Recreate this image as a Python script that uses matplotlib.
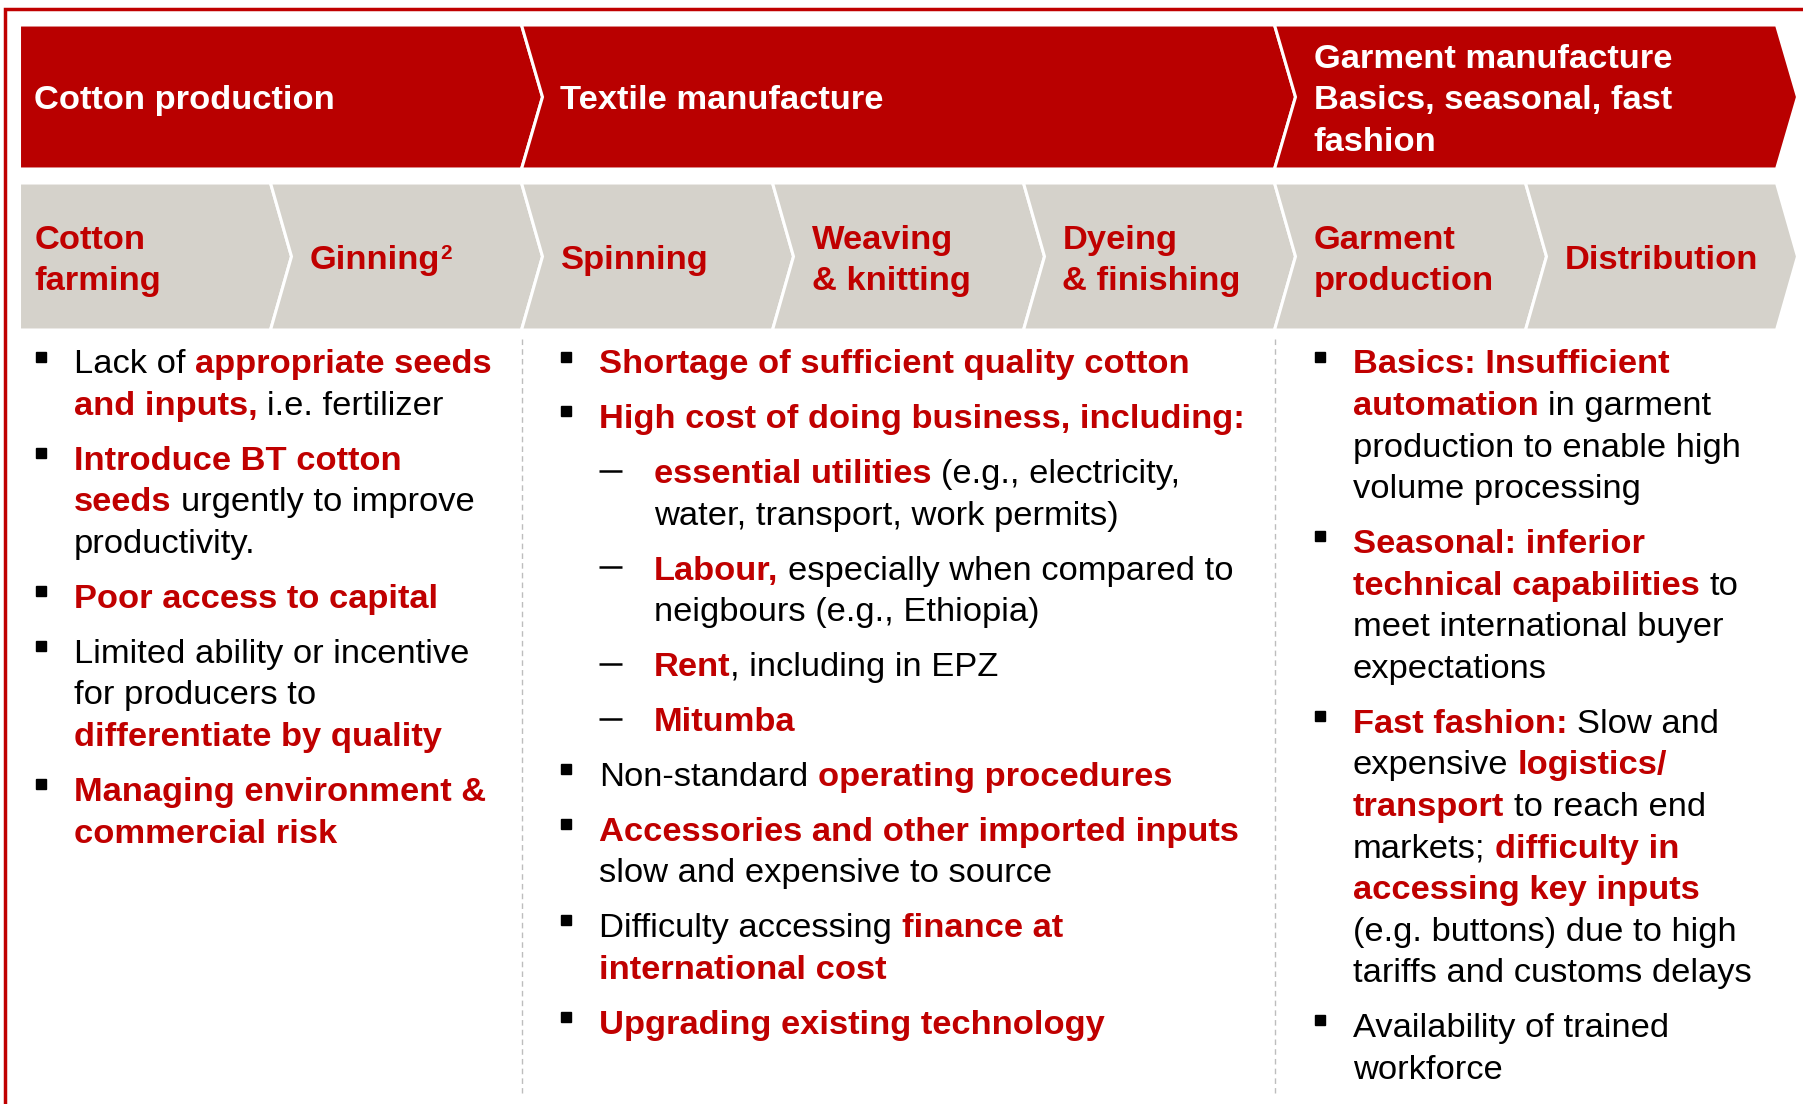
import re
import matplotlib
matplotlib.use('Agg')
import matplotlib.pyplot as plt
from matplotlib.patches import Polygon
from matplotlib.font_manager import FontProperties

RED = '#C00000'
HDR_RED = '#B90000'
GREY = '#D5D2CB'
FONT = ['Liberation Sans', 'DejaVu Sans']
FS = 24.8

# value chain: top stages and the steps beneath them
stages = ['Cotton production', 'Textile manufacture',
          'Garment manufacture\nBasics, seasonal, fast\nfashion']
stage_span = [2, 3, 2]
steps = ['Cotton\nfarming', 'Ginning', 'Spinning', 'Weaving\n& knitting',
         'Dyeing\n& finishing', 'Garment\nproduction', 'Distribution']
step_notes = {1: '2'}   # footnote marks

# constraints per column, *...* = red bold, level 1 = bullet, 2 = dash
col_cotton = [
    (1, ['Lack of *appropriate seeds*', '*and inputs,* i.e. fertilizer']),
    (1, ['*Introduce BT cotton*', '*seeds* urgently to improve', 'productivity.']),
    (1, ['*Poor access to capital*']),
    (1, ['Limited ability or incentive', 'for producers to', '*differentiate by quality*']),
    (1, ['*Managing environment &*', '*commercial risk*']),
]
col_textile = [
    (1, ['*Shortage of sufficient quality cotton*']),
    (1, ['*High cost of doing business, including:*']),
    (2, ['*essential utilities* (e.g., electricity,', 'water, transport, work permits)']),
    (2, ['*Labour,* especially when compared to', 'neigbours (e.g., Ethiopia)']),
    (2, ['*Rent*, including in EPZ']),
    (2, ['*Mitumba*']),
    (1, ['Non-standard *operating procedures*']),
    (1, ['*Accessories and other imported inputs*', 'slow and expensive to source']),
    (1, ['Difficulty accessing *finance at*', '*international cost*']),
    (1, ['*Upgrading existing technology*']),
]
col_garment = [
    (1, ['*Basics: Insufficient*', '*automation* in garment',
         'production to enable high', 'volume processing']),
    (1, ['*Seasonal: inferior*', '*technical capabilities* to',
         'meet international buyer', 'expectations']),
    (1, ['*Fast fashion:* Slow and', 'expensive *logistics/*', '*transport* to reach end',
         'markets; *difficulty in*', '*accessing key inputs*',
         '(e.g. buttons) due to high', 'tariffs and customs delays']),
    (1, ['Availability of trained', 'workforce']),
]
columns = [col_cotton, col_textile, col_garment]

W, H = 1803, 1104
fig = plt.figure(figsize=(W / 100, H / 100), dpi=100)
ax = fig.add_axes([0, 0, 1, 1])
ax.set_xlim(0, W)
ax.set_ylim(H, 0)
ax.axis('off')
r = fig.canvas.get_renderer()

em = FS * 100 / 72.0
x0, seg, tip = 19.5, 251.0, 21.0
LS, GAP = 41.6, 54.9
BOLD = FontProperties(family=FONT, size=FS, weight='bold')


def chevron(xa, xb, ya, yb, color, notch):
    ym = (ya + yb) / 2
    pts = [(xa, ya), (xb, ya), (xb + tip, ym), (xb, yb), (xa, yb)]
    if notch:
        pts.append((xa + tip, ym))
    ax.add_patch(Polygon(pts, closed=True, fc=color, ec='white', lw=2.2,
                         joinstyle='miter'))


def tw(s, prop):
    return r.get_text_width_height_descent(s, prop, ismath=False)[0]


def multiline(x, yc, label, color, note=None):
    lines = label.split('\n')
    n = len(lines)
    for i, ln in enumerate(lines):
        y = yc + (i - (n - 1) / 2) * LS + 0.358 * em
        ax.text(x, y, ln, color=color, fontproperties=BOLD,
                va='baseline', ha='left')
        if note and i == n - 1:
            ax.text(x + tw(ln, BOLD) + 0.5, y - 10, note, color=color,
                    fontsize=15, fontweight='bold', family=FONT,
                    va='baseline', ha='left')


def draw_line(x, yc, s):
    y = yc + 0.358 * em
    for part in re.split(r'(\*[^*]*\*)', s):
        if not part:
            continue
        red = part.startswith('*')
        txt = part.strip('*')
        prop = FontProperties(family=FONT, size=FS, weight='bold' if red else 'normal')
        sw = tw('a a', prop) - tw('aa', prop)
        core = txt.strip(' ')
        x += (len(txt) - len(txt.lstrip(' '))) * sw
        if core:
            ax.text(x, y, core, fontproperties=prop, color=RED if red else 'black',
                    va='baseline', ha='left')
            x += tw(core, prop)
        x += (len(txt) - len(txt.rstrip(' '))) * sw


# outer frame
ax.plot([4.5, 4.5, W], [H, 9, 9], color=RED, lw=2.5, solid_joinstyle='miter')

# top row: stages
k = 0
for i, (name, span) in enumerate(zip(stages, stage_span)):
    xa, xb = x0 + k * seg, x0 + (k + span) * seg
    chevron(xa, xb, 25, 169, HDR_RED, i > 0)
    multiline(xa + (15 if i == 0 else 39), 97, name, 'white')
    k += span

# second row: steps
for i, name in enumerate(steps):
    xa, xb = x0 + i * seg, x0 + (i + 1) * seg
    chevron(xa, xb, 183, 330, GREY, i > 0)
    multiline(xa + (15 if i == 0 else 39), 257, name, RED, step_notes.get(i))

# dashed separators between columns
for xs in [x0 + 2 * seg, x0 + 5 * seg]:
    ax.plot([xs, xs], [339, 1093], color='#BDBDBD', lw=1, ls=(0, (4, 3)))

# bullet text
col_x = [40.5, 566, 1320]
for cx, items in zip(col_x, columns):
    y = 361
    for j, (lvl, lines) in enumerate(items):
        if j > 0:
            y += GAP
        if lvl == 1:
            ax.plot(cx, y - 4.5, 's', color='black', ms=6.5, mec='black')
            tx = cx + 33
        else:
            ax.plot([cx + 33, cx + 56], [y, y], color='black', lw=1.8,
                    solid_capstyle='butt')
            tx = cx + 88
        for n, ln in enumerate(lines):
            if n > 0:
                y += LS
            draw_line(tx, y, ln)

fig.savefig('out.png', dpi=100)
